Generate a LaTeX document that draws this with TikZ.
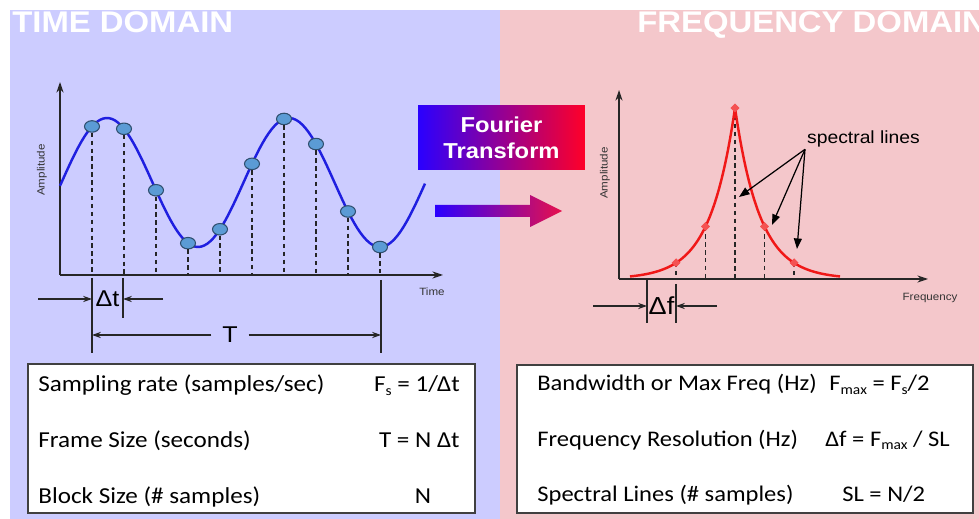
\documentclass[tikz,border=0pt]{standalone}
\usepackage{fontspec}
\usetikzlibrary{positioning,shapes.geometric,arrows.meta}
\setmainfont[FakeStretch=1.1]{Liberation Sans}
\newfontfamily\boxfont[FakeStretch=1.1]{Carlito}
\newcommand\lowsub[1]{\raisebox{-0.35ex}{\fontsize{8}{8}\selectfont #1}}
\definecolor{TimeBg}{HTML}{CCCCFF}
\definecolor{FreqBg}{HTML}{F4C7CB}
\definecolor{WaveBlue}{HTML}{1F1FE0}
\definecolor{DotBlue}{HTML}{5B9BD5}
\definecolor{DotEdge}{HTML}{2F4F6F}
\definecolor{SpecRed}{HTML}{F01818}
\definecolor{FTBlue}{HTML}{2A00FF}
\definecolor{FTRed}{HTML}{FF0028}
\definecolor{ArrRed}{HTML}{E8104C}
\definecolor{BoxEdge}{HTML}{404040}
\tikzset{
  titletext/.style={anchor=base west,inner sep=0pt,text=white,
    font=\fontsize{17}{20}\selectfont\bfseries},
  axisline/.style={line width=0.8pt,draw=black!85,-{Stealth[length=6pt,width=4pt]}},
  axislabel/.style={inner sep=0pt,text=black!80,font=\fontsize{6}{7}\selectfont},
  wave/.style={line width=1.4pt,draw=WaveBlue},
  spectrum/.style={line width=1.4pt,draw=SpecRed},
  sampledot/.style={ellipse,draw=DotEdge,fill=DotBlue,line width=0.6pt,
    minimum width=0.3cm,minimum height=0.23cm,inner sep=0pt},
  specdot/.style={diamond,fill=SpecRed!75,minimum size=0.18cm,inner sep=0pt},
  dropline/.style={line width=0.7pt,draw=black!85,dash pattern=on 2.5pt off 2pt},
  dimline/.style={line width=0.7pt,draw=black!85},
  dimarrow/.style={line width=0.7pt,draw=black!85,-{Stealth[length=5pt,width=3.5pt]}},
  dimlabel/.style={inner sep=1pt,font=\fontsize{13}{15}\selectfont},
  pointer/.style={line width=0.7pt,draw=black,-{Triangle[length=6pt,width=4.5pt]}},
  speclabel/.style={inner sep=1pt,font=\fontsize{10}{12}\selectfont},
  ftbox/.style={left color=FTBlue,right color=FTRed,minimum width=3.34cm,
    minimum height=1.28cm,align=center,text=white,inner sep=0pt,
    font=\fontsize{12.3}{14.5}\selectfont\bfseries},
  infobox/.style={draw=BoxEdge,fill=white,line width=0.8pt,inner sep=0pt},
  rowtext/.style={inner sep=0pt,font=\boxfont\fontsize{13}{15}\selectfont},
  rowtextB/.style={inner sep=0pt,font=\boxfont\fontsize{12.7}{15}\selectfont},
}
\begin{document}
\begin{tikzpicture}[x=0.02cm,y=-0.02cm]
  \useasboundingbox (0,0) rectangle (979,519);
  \clip (0,0) rectangle (979,519);
  % backgrounds and titles
  \fill[TimeBg] (10,10) rectangle (500,519);
  \fill[FreqBg] (500,10) rectangle (979,519);
  \node[titletext] (ttitle) at (12,33) {TIME DOMAIN};
  \node[titletext] (ftitle) at (637,33) {FREQUENCY DOMAIN};

  % time domain
  \coordinate (tO) at (60,275);
  \coordinate (tY) at (60,82);
  \coordinate (tX) at (443,275);
  \draw[axisline] (tO) -- (tY);
  \draw[axisline] (tO) -- (tX);
  \node[axislabel,rotate=90] (tamp) at (42,170) {Amplitude};
  \node[axislabel] (ttime) at (432,292) {Time};
  \draw[wave] plot[domain=60:425,samples=120] (\x,{182.5-64.5*sin(1.978*(\x-61.5))});
  \foreach \i in {0,...,9} {
    \pgfmathsetmacro\xs{92+32*\i}
    \node[sampledot] (s\i) at (\xs,{182.5-64.5*sin(1.978*(\xs-61.5))}) {};
    \draw[dropline] (s\i.south) -- (s\i |- tO);
  }
  \coordinate (dtA) at (92,278);
  \coordinate (dtAb) at (92,353);
  \coordinate (dtB) at (123,278);
  \coordinate (dtBb) at (123,318);
  \coordinate (tEnd) at (381,280);
  \coordinate (tEndb) at (381,353);
  \draw[dimline] (dtA) -- (dtAb);
  \draw[dimline] (dtB) -- (dtBb);
  \draw[dimline] (tEnd) -- (tEndb);
  \node[dimlabel] (dt) at (107.5,299) {Δt};
  \coordinate (dtIn) at (38,299);
  \coordinate (dtOut) at (163,299);
  \draw[dimarrow] (dtIn) -- (dtA |- dt);
  \draw[dimarrow] (dtOut) -- (dtB |- dt);
  \node[dimlabel,inner xsep=6pt] (tlab) at (230,335) {T};
  \draw[dimarrow] (tlab) -- (dtA |- tlab);
  \draw[dimarrow] (tlab) -- (tEnd |- tlab);

  % transform
  \node[ftbox] (ft) at (501.5,138) {Fourier\\Transform};
  \shade[left color=FTBlue,right color=ArrRed] (435,205) -- (530,205) -- (530,195)
    -- (562,211) -- (530,227) -- (530,217) -- (435,217) -- cycle;

  % frequency domain
  \coordinate (fO) at (619,279);
  \coordinate (fY) at (619,90);
  \coordinate (fX) at (928,279);
  \draw[axisline] (fO) -- (fY);
  \draw[axisline] (fO) -- (fX);
  \node[axislabel,rotate=90] (famp) at (605,173) {Amplitude};
  \node[axislabel] (ffreq) at (930,298) {Frequency};
  \foreach \i in {0,...,4} {
    \pgfmathsetmacro\xf{676+29.5*\i}
    \node[specdot] (p\i) at (\xf,{279-171*exp(-abs(\xf-735)/25)}) {};
    \draw[dropline] (p\i.center) -- (p\i |- fO);
  }
  \draw[spectrum] plot[domain=630:735,samples=80] (\x,{279-171*exp(-(735-\x)/25)})
    -- plot[domain=735:840,samples=80] (\x,{279-171*exp(-(\x-735)/25)});
  \foreach \i in {0,...,4} {
    \node[specdot] at (p\i) {};
  }
  \coordinate (dfA) at (647,279);
  \coordinate (dfAb) at (647,323);
  \coordinate (dfB) at (676,284);
  \coordinate (dfBb) at (676,323);
  \draw[dimline] (dfA) -- (dfAb);
  \draw[dimline] (dfB) -- (dfBb);
  \node[dimlabel,font=\fontsize{14}{16}\selectfont] (df) at (661.5,306) {Δf};
  \coordinate (dfIn) at (593,306);
  \coordinate (dfOut) at (717,306);
  \draw[dimarrow] (dfIn) -- (dfA |- df);
  \draw[dimarrow] (dfOut) -- (dfB |- df);
  \node[speclabel,anchor=west] (sl) at (805,139) {spectral lines};
  \coordinate (sl1) at (739,197);
  \coordinate (sl2) at (772,225);
  \coordinate (sl3) at (797,249);
  \draw[pointer] (sl.south west) -- (sl1);
  \draw[pointer] (sl.south west) -- (sl2);
  \draw[pointer] (sl.south west) -- (sl3);

  % parameter boxes
  \node[infobox,minimum width=8.94cm,minimum height=2.98cm] (tbox) at (251.5,438.5) {};
  \node[rowtext,anchor=base west] (tr1) at (38,392) {Sampling rate (samples/sec)};
  \node[rowtext,anchor=base west] (tr2) at (38,447) {Frame Size (seconds)};
  \node[rowtext,anchor=base west] (tr3) at (38,503) {Block Size (\# samples)};
  \node[rowtext,anchor=base east] (tf1) at (460,392) {F\lowsub{s} = 1/Δt};
  \node[rowtext,anchor=base east] (tf2) at (460,447) {T = N Δt};
  \node[rowtext,anchor=base] (tf3) at (423,503) {N};
  \node[infobox,minimum width=9.12cm,minimum height=2.96cm] (fbox) at (745,439) {};
  \node[rowtextB,anchor=base west] (fr1) at (537,391) {Bandwidth or Max Freq (Hz)};
  \node[rowtextB,anchor=base west] (fr2) at (537,446) {Frequency Resolution (Hz)};
  \node[rowtextB,anchor=base west] (fr3) at (537,501) {Spectral Lines (\# samples)};
  \node[rowtextB,anchor=base west] (ff1) at (829,391) {F\lowsub{max} = F\lowsub{s}/2};
  \node[rowtextB,anchor=base west] (ff2) at (825,446) {Δf = F\lowsub{max} / SL};
  \node[rowtextB,anchor=base west] (ff3) at (842,501) {SL = N/2};
\end{tikzpicture}
\end{document}
